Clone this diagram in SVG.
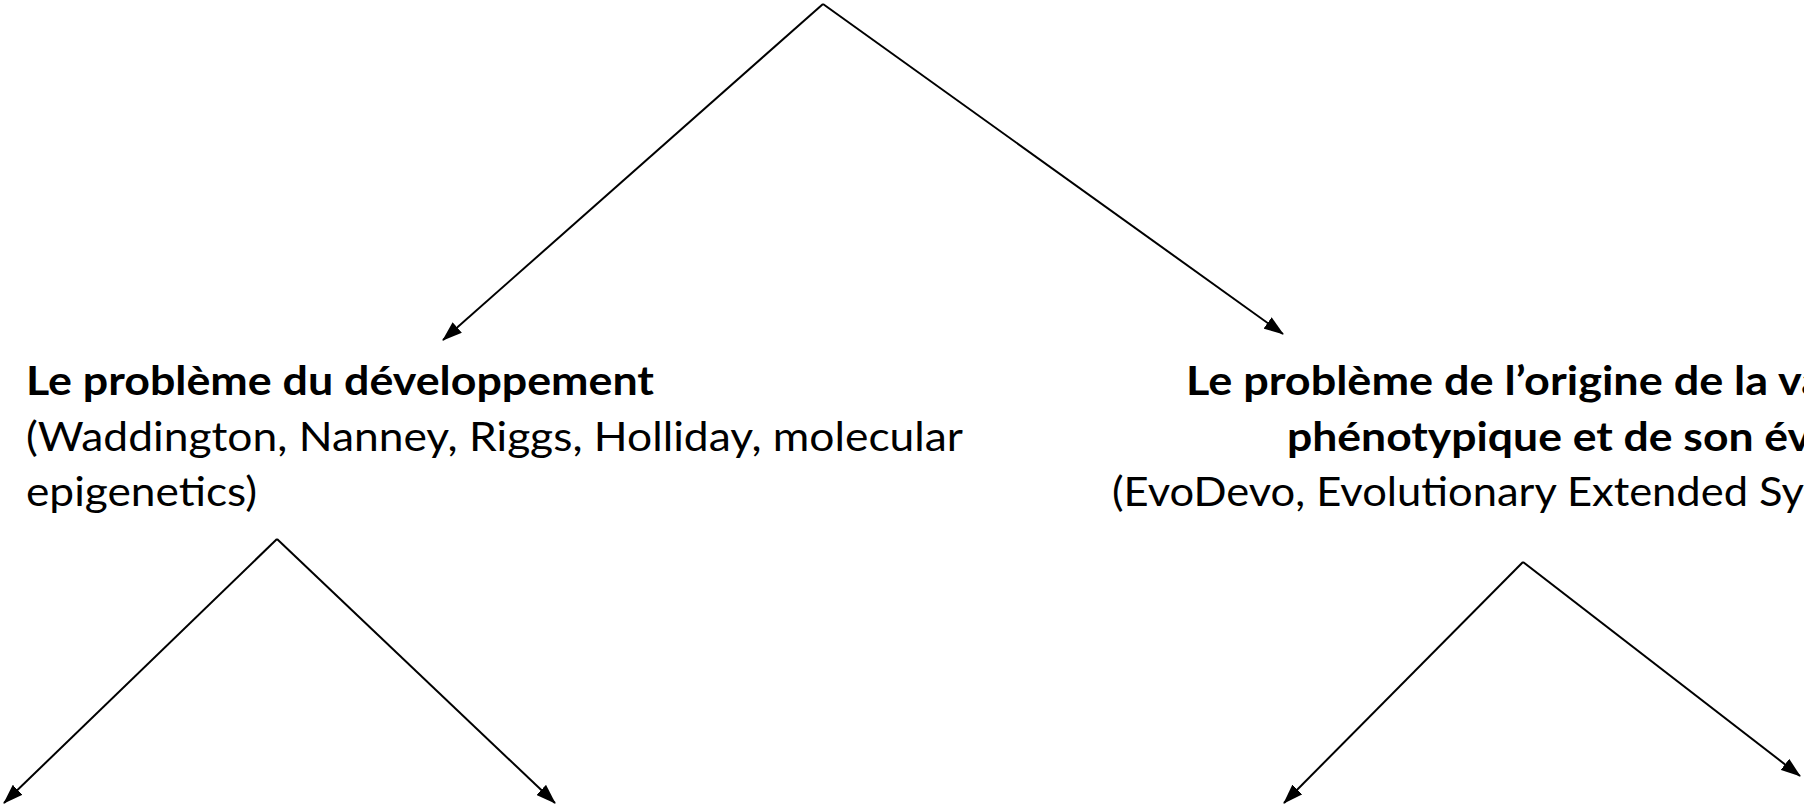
<svg xmlns="http://www.w3.org/2000/svg" width="1804" height="808" viewBox="0 0 1804 808">
<defs>
<style>
.t{font-family:Lato,"Liberation Sans",sans-serif;font-size:41px;fill:#000}
.b{font-weight:bold}
.c{stroke:#000;stroke-width:2;fill:none}
</style>
<marker id="ah" viewBox="0 0 20 14" refX="19" refY="7" markerWidth="20" markerHeight="14" markerUnits="userSpaceOnUse" orient="auto">
<path d="M0,0 L20,7 L0,14 z" fill="#000"/>
</marker>
</defs>
<rect width="1804" height="808" fill="#fff"/>
<g id="connectors">
<line class="c" x1="823" y1="4" x2="443" y2="340" marker-end="url(#ah)"/>
<line class="c" x1="823" y1="4" x2="1283" y2="334" marker-end="url(#ah)"/>
<line class="c" x1="277" y1="539" x2="4" y2="803" marker-end="url(#ah)"/>
<line class="c" x1="277" y1="539" x2="555" y2="803" marker-end="url(#ah)"/>
<line class="c" x1="1523" y1="562" x2="1284" y2="803" marker-end="url(#ah)"/>
<line class="c" x1="1523" y1="562" x2="1800" y2="776" marker-end="url(#ah)"/>
</g>
<g id="node-developpement">
<text class="t b" x="26" y="395" textLength="628" lengthAdjust="spacingAndGlyphs">Le problème du développement</text>
<text class="t" x="26" y="451" textLength="937" lengthAdjust="spacingAndGlyphs">(Waddington, Nanney, Riggs, Holliday, molecular</text>
<text class="t" x="26" y="506" textLength="231" lengthAdjust="spacingAndGlyphs">epigenetics)</text>
</g>
<g id="node-variation">
<text class="t b" x="1186" y="395" textLength="638" lengthAdjust="spacingAndGlyphs">Le problème de l’origine de la va</text>
<text class="t b" x="1287" y="451" textLength="524" lengthAdjust="spacingAndGlyphs">phénotypique et de son év</text>
<text class="t" x="1112" y="506" textLength="692" lengthAdjust="spacingAndGlyphs">(EvoDevo, Evolutionary Extended Sy</text>
</g>
</svg>
